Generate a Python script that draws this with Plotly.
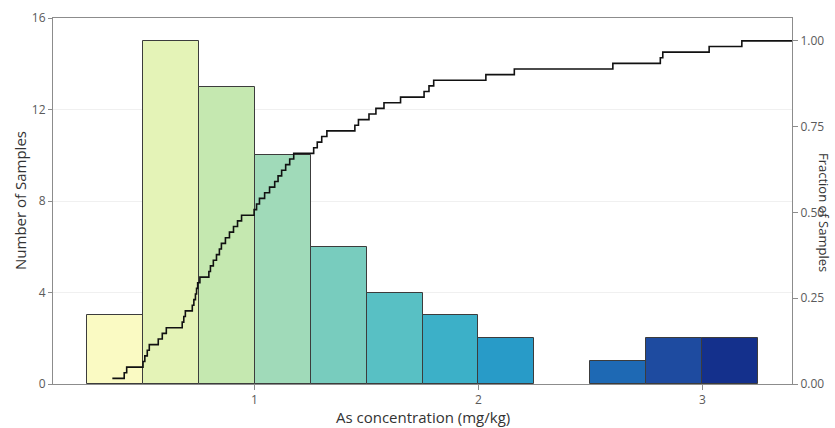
import plotly.graph_objects as go

# ---- data ----
bin_left = [0.25, 0.50, 0.75, 1.00, 1.25, 1.50, 1.75, 2.00, 2.25, 2.50, 2.75, 3.00]
counts = [3, 15, 13, 10, 6, 4, 3, 2, 0, 1, 2, 2]
bin_width = 0.25

# sorted As concentrations (mg/kg)
concentrations = [
    0.365, 0.418, 0.429,
    0.502, 0.510, 0.521, 0.530, 0.570, 0.588, 0.606, 0.677, 0.684, 0.691,
    0.722, 0.729, 0.736, 0.741, 0.746,
    0.756, 0.796, 0.803, 0.816, 0.830, 0.843, 0.852, 0.870, 0.888, 0.906,
    0.924, 0.942, 0.998,
    1.009, 1.022, 1.045, 1.067, 1.090, 1.105, 1.121, 1.139, 1.157, 1.175,
    1.264, 1.280, 1.300, 1.323, 1.448, 1.464,
    1.511, 1.542, 1.578, 1.652,
    1.757, 1.779, 1.800,
    2.033, 2.160,
    2.600,
    2.812, 2.823,
    3.030, 3.176,
]

x_ticks = [1, 2, 3]
y_ticks = [0, 4, 8, 12, 16]
frac_ticks = [0, 0.25, 0.50, 0.75, 1.00]

# ---- styling ----
bar_colors = ["#fafac3", "#e4f3b7", "#c5e8b0", "#a0dab9", "#78ccbe", "#58c0c4",
              "#3cb0c8", "#289bc8", "#2482c0", "#1e69b4", "#1e4ba0", "#14308c"]
x_range = [0.1, 3.4]
y_range = [0, 16]
frac_scale = 15  # fraction 1.0 sits at count 15
axis_grey = "#8c8c8c"
text_grey = "#5a5a5a"
title_color = "#333333"
font_family = "Open Sans, Noto Sans, sans-serif"

centers = [b + bin_width / 2 for b in bin_left]
outline_colors = ["#3c3c3c" if c > 0 else "rgba(0,0,0,0)" for c in counts]
n = len(concentrations)
ecdf_x = concentrations + [x_range[1]]
ecdf_y = [(i + 1) / n for i in range(n)] + [1.0]

fig = go.Figure()
fig.add_trace(go.Bar(
    x=centers, y=counts, width=bin_width,
    marker=dict(color=bar_colors, line=dict(color=outline_colors, width=1)),
    showlegend=False, hoverinfo="x+y",
))
fig.add_trace(go.Scatter(
    x=ecdf_x, y=ecdf_y, yaxis="y2", mode="lines",
    line=dict(color="#111111", width=1.6, shape="hv"),
    showlegend=False,
))

title_font = dict(size=15, color=title_color, family=font_family)

fig.update_layout(
    width=835, height=428,
    margin=dict(l=53, r=43, t=18, b=44),
    paper_bgcolor="white", plot_bgcolor="white",
    bargap=0,
    font=dict(family=font_family, color=text_grey, size=12),
    xaxis=dict(
        range=x_range, tickvals=x_ticks, ticktext=[str(t) for t in x_ticks],
        showline=True, linecolor=axis_grey, linewidth=1, mirror=True,
        ticks="outside", ticklen=5, tickcolor=axis_grey,
        showgrid=False, zeroline=False, automargin=False,
        tickfont=dict(size=12, color=text_grey),
    ),
    yaxis=dict(
        range=y_range, tickvals=y_ticks,
        showline=True, linecolor=axis_grey, linewidth=1,
        ticks="outside", ticklen=4, tickcolor=axis_grey,
        showgrid=True, gridcolor="#f0f0f0", gridwidth=1, zeroline=False,
        automargin=False,
        tickfont=dict(size=12, color=text_grey),
    ),
    yaxis2=dict(
        overlaying="y", side="right",
        range=[y_range[0] / frac_scale, y_range[1] / frac_scale],
        tickvals=frac_ticks, tickformat=".2f",
        showline=True, linecolor=axis_grey, linewidth=1,
        ticks="outside", ticklen=5, tickcolor=axis_grey,
        showgrid=False, zeroline=False, automargin=False,
        tickfont=dict(size=12, color=text_grey),
    ),
    annotations=[
        dict(text="As concentration (mg/kg)", xref="paper", yref="paper",
             x=0.5, y=0, yshift=-33, xanchor="center", yanchor="middle",
             showarrow=False, font=title_font),
        dict(text="Number of Samples", textangle=-90, xref="paper", yref="paper",
             x=0, y=0.5, xshift=-33, xanchor="center", yanchor="middle",
             showarrow=False, font=title_font),
        dict(text="Fraction of Samples", textangle=90, xref="paper", yref="paper",
             x=1.0, y=0.47, xshift=32, xanchor="center", yanchor="middle",
             borderpad=0,
             showarrow=False, font=dict(size=13, color=title_color, family=font_family)),
    ],
)

fig.write_html("out.html")
